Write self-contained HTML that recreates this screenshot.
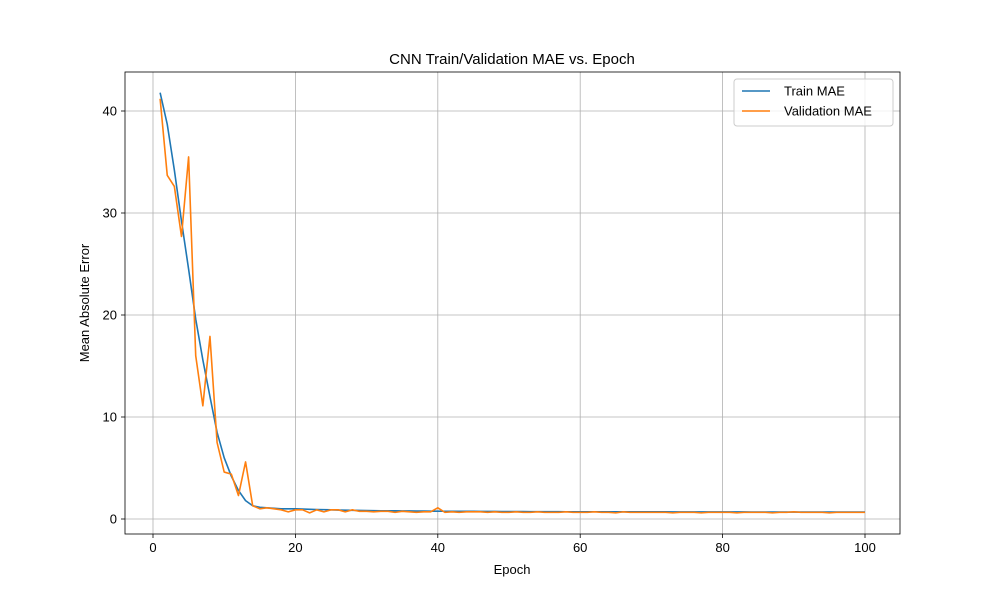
<!DOCTYPE html>
<html><head><meta charset="utf-8"><style>body{margin:0;background:#fff}svg{display:block;font-family:"Liberation Sans",sans-serif}</style></head>
<body>
<svg id="chart" width="1000" height="600"></svg>
<script>
const epochs = Array.from({length:100},(_,i)=>i+1);
const trainMAE = [41.8,38.7,34.2,29.2,24.5,19.6,15.6,12.0,8.5,6.0,4.2,2.8,1.8,1.3,1.15,1.1,1.05,1.0,1.0,1.0,0.98,0.95,0.93,0.92,0.9,0.88,0.86,0.85,0.84,0.83,0.82,0.81,0.8,0.8,0.79,0.79,0.78,0.78,0.77,0.77,
0.76,0.76,0.75,0.75,0.75,0.74,0.74,0.74,0.73,0.73,0.73,0.73,0.72,0.72,0.72,0.72,0.72,0.71,0.71,0.71,0.71,0.71,0.71,0.7,0.7,0.7,0.7,0.7,0.7,0.7,0.7,0.7,0.69,0.69,0.69,0.69,0.69,0.69,0.69,0.69,0.69,0.69,0.69,0.68,0.68,0.68,0.68,0.68,0.68,0.68,0.68,0.68,0.68,0.68,0.68,0.68,0.68,0.68,0.68,0.68];
const valMAE = [41.2,33.7,32.6,27.7,35.5,16.0,11.1,17.9,7.5,4.6,4.4,2.3,5.6,1.3,1.0,1.1,1.0,0.9,0.7,0.9,0.9,0.6,0.9,0.7,0.9,0.9,0.7,0.9,0.75,0.75,0.7,0.75,0.75,0.65,0.75,0.7,0.65,0.7,0.7,1.1,
0.65,0.7,0.65,0.7,0.7,0.7,0.65,0.7,0.65,0.65,0.7,0.65,0.65,0.7,0.65,0.65,0.65,0.7,0.65,0.65,0.65,0.7,0.65,0.65,0.6,0.7,0.65,0.65,0.65,0.65,0.65,0.65,0.6,0.65,0.65,0.65,0.6,0.65,0.65,0.65,0.65,0.6,0.65,0.65,0.65,0.65,0.6,0.65,0.65,0.7,0.65,0.65,0.65,0.65,0.6,0.65,0.65,0.65,0.65,0.65];
const xTicks = [0,20,40,60,80,100];
const yTicks = [0,10,20,30,40];

const NS="http://www.w3.org/2000/svg", svg=document.getElementById('chart');
const L=125,R=900,T=72,B=534;
const xs=v=>153+(v-0)*(865-153)/100;
const ys=v=>519-v*(519-111)/40;
function mk(t,a,p){const e=document.createElementNS(NS,t);for(const k in a)e.setAttribute(k,a[k]);(p||svg).appendChild(e);return e;}
// grid + ticks
xTicks.forEach(v=>{const x=xs(v);
 const g=mk('line',{x1:x,x2:x,y1:T,y2:B,stroke:'#b0b0b0','stroke-width':0.8});
 
 mk('line',{x1:x,x2:x,y1:B,y2:B+4,stroke:'#000','stroke-width':0.8});
 const t=mk('text',{x:x,y:B+18,'text-anchor':'middle','font-size':13});t.textContent=v;
 });
yTicks.forEach(v=>{const y=ys(v);
 const g=mk('line',{x1:L,x2:R,y1:y,y2:y,stroke:'#b0b0b0','stroke-width':0.8});
 
 mk('line',{x1:L-4,x2:L,y1:y,y2:y,stroke:'#000','stroke-width':0.8});
 const t=mk('text',{x:L-8,y:y+4.5,'text-anchor':'end','font-size':13});t.textContent=v;
 });
function line(data,color,name){const d=data.map((v,i)=>(i?'L':'M')+xs(epochs[i]).toFixed(2)+','+ys(v).toFixed(2)).join('');
 const p=mk('path',{d:d,fill:'none',stroke:color,'stroke-width':1.6,'stroke-linejoin':'round'});
 }
line(trainMAE,'#1f77b4','train-mae-line');
line(valMAE,'#ff7f0e','validation-mae-line');
const fr=mk('rect',{x:L,y:T,width:R-L,height:B-T,fill:'none',stroke:'#000','stroke-width':0.8});

let t=mk('text',{x:512,y:64,'text-anchor':'middle','font-size':15});t.textContent='CNN Train/Validation MAE vs. Epoch';

t=mk('text',{x:512,y:574,'text-anchor':'middle','font-size':13});t.textContent='Epoch';

t=mk('text',{x:0,y:0,'text-anchor':'middle','font-size':13,transform:'translate(89,303) rotate(-90)'});t.textContent='Mean Absolute Error';

// legend
const lg=mk('g',{});
mk('rect',{x:734,y:79,width:159,height:47,rx:3,fill:'#fff','fill-opacity':0.8,stroke:'#ccc'},lg);
[['Train MAE','#1f77b4',91],['Validation MAE','#ff7f0e',111]].forEach(([n,c,y])=>{
 const e=mk('g',{},lg);
 mk('line',{x1:742,x2:770,y1:y,y2:y,stroke:c,'stroke-width':1.6},e);
 const tx=mk('text',{x:784,y:y+4.5,'font-size':13},e);tx.textContent=n;});
</script>
</body></html>
